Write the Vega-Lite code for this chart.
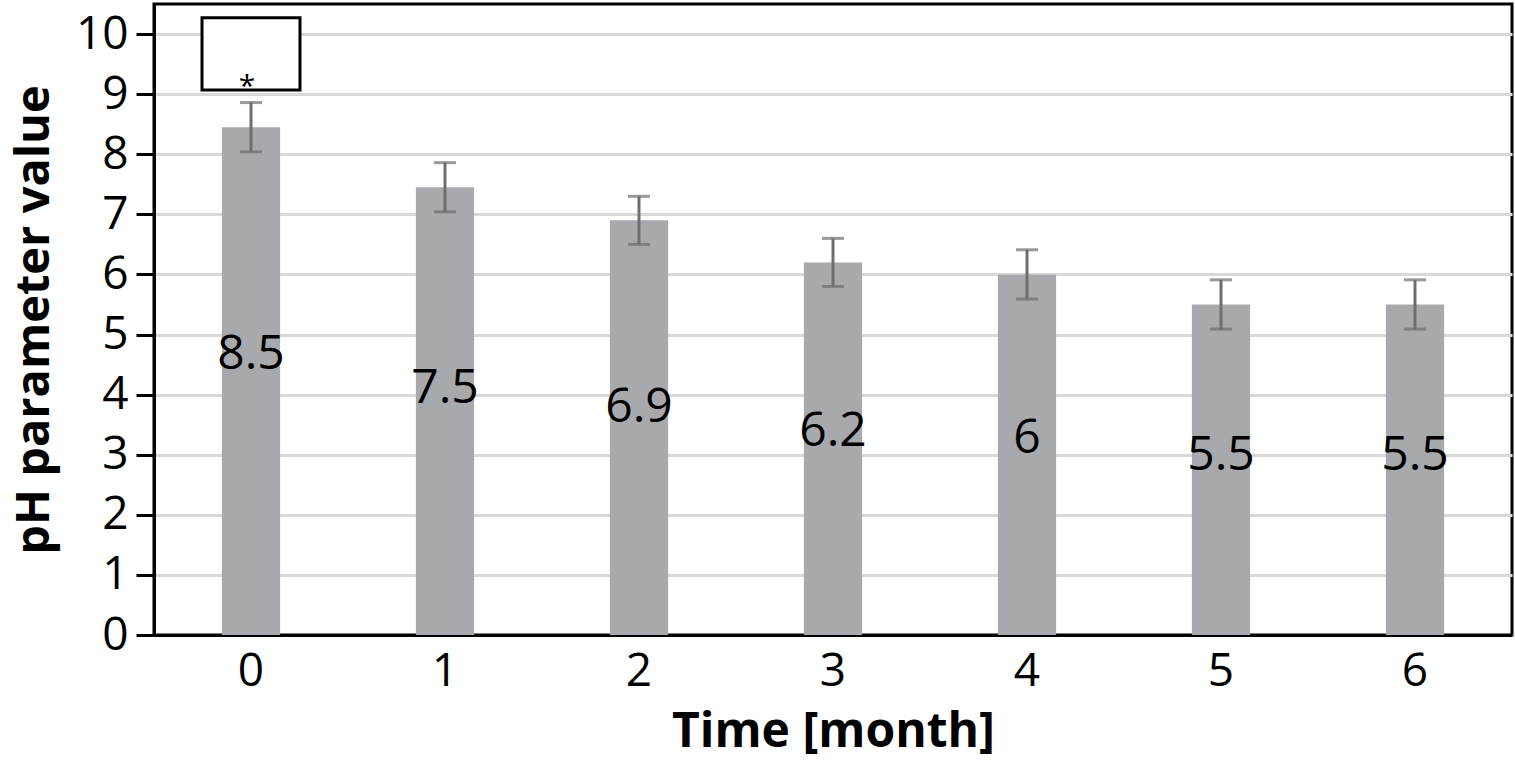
{
  "$schema": "https://vega.github.io/schema/vega-lite/v6.json",
  "autosize": {"type": "none"},
  "padding": {"left": 154, "top": 4, "right": 3, "bottom": 127},
  "width": 1358,
  "height": 631,
  "config": {
    "font": "Open Sans",
    "view": {"stroke": "black", "strokeWidth": 3},
    "axis": {"labelColor": "black", "titleColor": "black"}
  },
  "datasets": {
    "ph": [
      {"month": "0", "ph": 8.45, "sd": 0.41, "label": "8.5"},
      {"month": "1", "ph": 7.45, "sd": 0.41, "label": "7.5"},
      {"month": "2", "ph": 6.9, "sd": 0.4, "label": "6.9"},
      {"month": "3", "ph": 6.2, "sd": 0.4, "label": "6.2"},
      {"month": "4", "ph": 6.0, "sd": 0.41, "label": "6"},
      {"month": "5", "ph": 5.5, "sd": 0.41, "label": "5.5"},
      {"month": "6", "ph": 5.5, "sd": 0.41, "label": "5.5"}
    ],
    "box": [
      {"month": "0", "top": 10.27, "bottom": 9.07, "sig": "*"}
    ]
  },
  "encoding": {
    "x": {
      "field": "month",
      "type": "nominal",
      "sort": ["0", "1", "2", "3", "4", "5", "6"],
      "scale": {"paddingInner": 0, "paddingOuter": 0},
      "axis": {
        "title": "Time [month]",
        "labelAngle": 0,
        "labelFontSize": 46,
        "labelPadding": 14,
        "ticks": false,
        "domainColor": "black",
        "domainWidth": 3,
        "titleFontSize": 48,
        "titleFontWeight": "bold",
        "titlePadding": 14
      }
    }
  },
  "layer": [
    {
      "layer": [
        {
          "data": {"name": "ph"},
          "mark": {"type": "bar", "color": "#a7a9ac", "width": {"band": 0.3}},
          "encoding": {
            "y": {
              "field": "ph",
              "type": "quantitative",
              "scale": {"domain": [0, 10.5], "nice": false, "zero": true},
              "axis": {
                "title": "pH parameter value",
                "values": [0, 1, 2, 3, 4, 5, 6, 7, 8, 9, 10],
                "format": "d",
                "labelFontSize": 46,
                "labelPadding": 8,
                "tickSize": 18,
                "tickWidth": 3,
                "tickColor": "black",
                "domainColor": "black",
                "domainWidth": 3,
                "gridColor": "#d9d9d9",
                "gridWidth": 3,
                "titleFontSize": 47,
                "titleFontWeight": "bold",
                "titlePadding": 17
              }
            }
          }
        },
        {
          "data": {"name": "ph"},
          "mark": {
            "type": "errorbar",
            "color": "#6d6e71",
            "thickness": 3,
            "ticks": {"size": 22, "thickness": 3, "color": "#6d6e71"}
          },
          "encoding": {
            "y": {"field": "ph", "type": "quantitative", "title": "pH parameter value"},
            "yError": {"field": "sd"}
          }
        },
        {
          "data": {"name": "box"},
          "mark": {"type": "bar", "fill": "white", "stroke": "black", "strokeWidth": 3, "width": {"band": 0.505}},
          "encoding": {
            "y": {"field": "top", "type": "quantitative", "title": "pH parameter value"},
            "y2": {"field": "bottom"}
          }
        },
        {
          "data": {"name": "box"},
          "mark": {"type": "text", "fontSize": 30, "baseline": "alphabetic", "dy": 6, "color": "black", "dx": -4},
          "encoding": {
            "y": {"field": "bottom", "type": "quantitative", "title": "pH parameter value"},
            "text": {"field": "sig"}
          }
        }
      ]
    },
    {
      "data": {"name": "ph"},
      "mark": {"type": "text", "fontSize": 48, "baseline": "alphabetic", "color": "black"},
      "encoding": {
        "y": {
          "field": "ph",
          "type": "quantitative",
          "scale": {"domain": [0.673, 19.12], "nice": false, "zero": false},
          "axis": null
        },
        "text": {"field": "label"}
      }
    }
  ],
  "resolve": {"scale": {"y": "independent"}}
}
